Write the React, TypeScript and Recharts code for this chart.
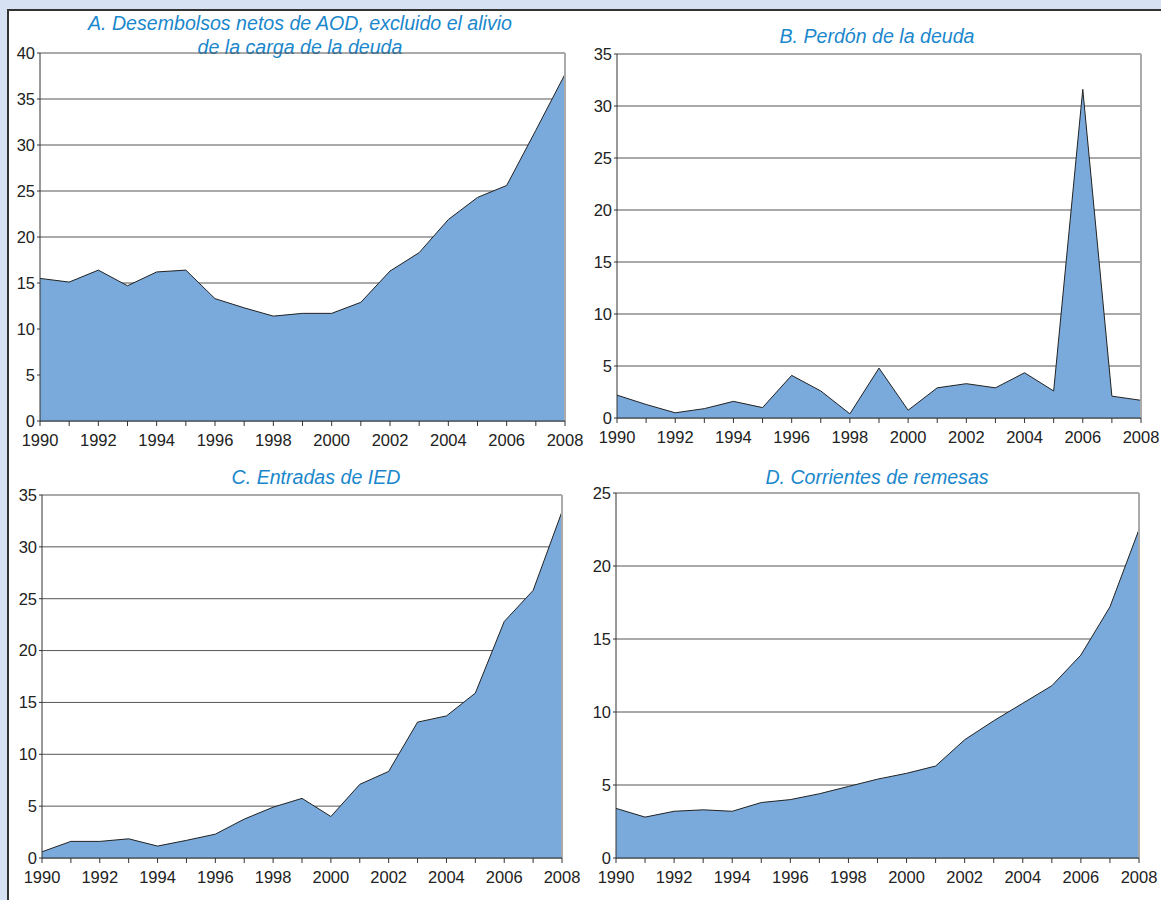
import React from 'react';
import { AreaChart, Area, XAxis, YAxis, CartesianGrid, ReferenceLine } from 'recharts';

const FILL = '#79AADB';
const TITLE = '#1A87CC';
const FONT = '"Liberation Sans", Arial, sans-serif';

const YEARS = [
  1990, 1991, 1992, 1993, 1994, 1995, 1996, 1997, 1998, 1999,
  2000, 2001, 2002, 2003, 2004, 2005, 2006, 2007, 2008,
];

// A. net ODA disbursements excl. debt relief
const ODA = [
  15.5, 15.1, 16.4, 14.7, 16.2, 16.4, 13.3, 12.3, 11.4, 11.7,
  11.7, 12.9, 16.3, 18.3, 21.9, 24.3, 25.6, 31.6, 37.7,
];
// B. debt forgiveness
const DEBT = [
  2.2, 1.3, 0.5, 0.9, 1.6, 1.0, 4.1, 2.6, 0.4, 4.8,
  0.75, 2.9, 3.3, 2.9, 4.35, 2.6, 31.6, 2.1, 1.7,
];
// C. FDI inflows
const FDI = [
  0.6, 1.6, 1.6, 1.85, 1.15, 1.7, 2.3, 3.75, 4.9, 5.75,
  4.0, 7.1, 8.35, 13.1, 13.7, 15.9, 22.8, 25.8, 33.4,
];
// D. remittance flows
const REMIT = [
  3.4, 2.8, 3.2, 3.3, 3.2, 3.8, 4.0, 4.4, 4.9, 5.4,
  5.8, 6.3, 8.1, 9.4, 10.6, 11.8, 13.9, 17.2, 22.5,
];

const TICKS_40 = [0, 5, 10, 15, 20, 25, 30, 35, 40];
const TICKS_35 = [0, 5, 10, 15, 20, 25, 30, 35];
const TICKS_25 = [0, 5, 10, 15, 20, 25];

const TITLE_A = ['A. Desembolsos netos de AOD, excluido el alivio', 'de la carga de la deuda'];
const TITLE_B = ['B. Perdón de la deuda'];
const TITLE_C = ['C. Entradas de IED'];
const TITLE_D = ['D. Corrientes de remesas'];

const toRows = (vals: number[]) => YEARS.map((year, i) => ({ year, v: vals[i] }));

type Box = { l: number; t: number; r: number; b: number };

function Panel({
  values,
  ticks,
  box,
  title,
  titleX,
  titleY,
}: {
  values: number[];
  ticks: number[];
  box: Box;
  title: string[];
  titleX: number;
  titleY: number;
}) {
  const yW = 40;
  const sx = box.l - 45;
  const sy = box.t - 10;
  const w = box.r - sx + 30;
  const h = box.b - sy + 35;
  const tick = { fontSize: 16.5, fill: '#222', fontFamily: FONT };
  return (
    <>
      <div
        style={{
          position: 'absolute',
          left: titleX - 300,
          top: titleY,
          width: 600,
          textAlign: 'center',
          color: TITLE,
          fontStyle: 'italic',
          fontFamily: FONT,
          fontSize: 19.6,
          lineHeight: '24px',
        }}
      >
        {title.map((s) => (
          <div key={s}>{s}</div>
        ))}
      </div>
      <div style={{ position: 'absolute', left: sx, top: sy }}>
        <AreaChart
          width={w}
          height={h}
          data={toRows(values)}
          margin={{ top: 10, left: 5, right: 30, bottom: 5 }}
        >
          <CartesianGrid vertical={false} stroke="#555" strokeWidth={1} />
          <XAxis
            dataKey="year"
            type="number"
            domain={[1990, 2008]}
            ticks={YEARS}
            interval={0}
            height={30}
            tickFormatter={(y: number) => (y % 2 === 0 ? String(y) : '')}
            tick={tick}
            tickSize={5}
            tickMargin={8}
            stroke="#333"
            tickLine={{ stroke: '#333' }}
          />
          <YAxis
            width={yW}
            domain={[0, ticks[ticks.length - 1]]}
            ticks={ticks}
            interval={0}
            tick={tick}
            tickSize={3}
            tickMargin={2}
            stroke="#333"
          />
          <Area
            type="linear"
            dataKey="v"
            stroke="#222"
            strokeWidth={1}
            fill={FILL}
            fillOpacity={1}
            isAnimationActive={false}
            dot={false}
            activeDot={false}
          />
          <ReferenceLine x={2008} stroke="#AAA" strokeWidth={2} />
        </AreaChart>
      </div>
    </>
  );
}

export default function App() {
  return (
    <div
      style={{
        position: 'absolute',
        left: 0,
        top: 0,
        width: 1161,
        height: 900,
        overflow: 'hidden',
        background: '#D6E2F3',
      }}
    >
      <div
        style={{
          position: 'absolute',
          left: 7,
          top: 9,
          width: 1170,
          height: 900,
          background: '#fff',
          borderTop: '2px solid #333',
          borderLeft: '2px solid #333',
        }}
      />
      <Panel values={ODA} ticks={TICKS_40} box={{ l: 40, t: 53, r: 565, b: 421 }} title={TITLE_A} titleX={300} titleY={11} />
      <Panel values={DEBT} ticks={TICKS_35} box={{ l: 617, t: 54, r: 1141, b: 418 }} title={TITLE_B} titleX={877} titleY={24} />
      <Panel values={FDI} ticks={TICKS_35} box={{ l: 42, t: 495, r: 562, b: 858 }} title={TITLE_C} titleX={316} titleY={465} />
      <Panel values={REMIT} ticks={TICKS_25} box={{ l: 616, t: 493, r: 1139, b: 858 }} title={TITLE_D} titleX={877} titleY={465} />
    </div>
  );
}
